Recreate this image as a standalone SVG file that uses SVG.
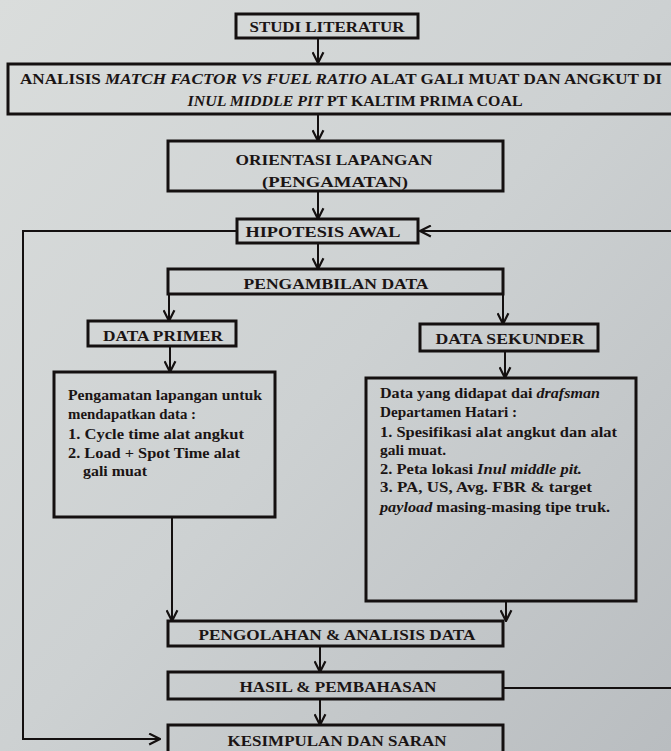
<svg xmlns="http://www.w3.org/2000/svg" width="671" height="751" viewBox="0 0 671 751">
<defs>
<linearGradient id="bg" x1="0" y1="0" x2="1" y2="1">
<stop offset="0" stop-color="#dadddc"/>
<stop offset="0.5" stop-color="#cdd1d2"/>
<stop offset="1" stop-color="#b9bdc0"/>
</linearGradient>
<marker id="ah" viewBox="0 0 12 12" refX="11" refY="6" markerWidth="13" markerHeight="13" markerUnits="userSpaceOnUse" orient="auto">
<path d="M1,1 L11,6 L1,11" fill="none" stroke="#141010" stroke-width="2"/>
</marker>
<style>
.box{fill:none;stroke:#141010;stroke-width:3}
.c{fill:none;stroke:#141010;stroke-width:2}
.a{marker-end:url(#ah)}
text{font-family:"Liberation Serif","Times New Roman",serif;font-weight:bold;fill:#1a1414}
.t{font-size:15.5px;text-anchor:middle}
.s{font-size:14.5px}
.i{font-style:italic}
</style>
</defs>
<rect width="671" height="751" fill="url(#bg)"/>

<g id="connectors">
<path class="c a" d="M318,38 V63"/>
<path class="c a" d="M318,114 V141"/>
<path class="c a" d="M318,191 V219"/>
<path class="c a" d="M675,231 H420"/>
<path class="c a" d="M237,231 H23 V739 H160"/>
<path class="c a" d="M318,243 V269"/>
<path class="c a" d="M169,294 V321"/>
<path class="c a" d="M503,294 V324"/>
<path class="c a" d="M170,346 V372"/>
<path class="c a" d="M505,351 V378"/>
<path class="c a" d="M172,517 V621"/>
<path class="c a" d="M506,601 V621"/>
<path class="c a" d="M320,646 V672"/>
<path class="c a" d="M320,699 V725"/>
<path class="c" d="M504,688 H675"/>
</g>

<g id="studi">
<rect class="box" x="236" y="14" width="182" height="24"/>
<text class="t" x="327" y="32" textLength="155" lengthAdjust="spacingAndGlyphs">STUDI LITERATUR</text>
</g>

<g id="analisis">
<rect class="box" x="8" y="64" width="700" height="50"/>
<text class="t" x="341" y="84" textLength="642" lengthAdjust="spacingAndGlyphs">ANALISIS <tspan class="i">MATCH FACTOR VS FUEL RATIO</tspan>  ALAT GALI MUAT DAN ANGKUT DI</text>
<text class="t" x="355" y="106" textLength="335" lengthAdjust="spacingAndGlyphs"><tspan class="i">INUL MIDDLE PIT</tspan>  PT KALTIM PRIMA COAL</text>
</g>

<g id="orientasi">
<rect class="box" x="168" y="141" width="335" height="50"/>
<text class="t" x="334" y="165" textLength="197" lengthAdjust="spacingAndGlyphs">ORIENTASI LAPANGAN</text>
<text class="t" x="335" y="187" textLength="146" lengthAdjust="spacingAndGlyphs">(PENGAMATAN)</text>
</g>

<g id="hipotesis">
<rect class="box" x="237" y="219" width="181" height="24"/>
<text class="t" x="323" y="237" textLength="155" lengthAdjust="spacingAndGlyphs">HIPOTESIS AWAL</text>
</g>

<g id="pengambilan">
<rect class="box" x="168" y="269" width="335" height="25"/>
<text class="t" x="336" y="289" textLength="185" lengthAdjust="spacingAndGlyphs">PENGAMBILAN DATA</text>
</g>

<g id="primer">
<rect class="box" x="88" y="321" width="148" height="25"/>
<text class="t" x="163" y="341" textLength="120" lengthAdjust="spacingAndGlyphs">DATA PRIMER</text>
</g>

<g id="sekunder">
<rect class="box" x="420" y="324" width="178" height="27"/>
<text class="t" x="510" y="344" textLength="149" lengthAdjust="spacingAndGlyphs">DATA SEKUNDER</text>
</g>

<g id="primer-detail">
<rect class="box" x="54" y="372" width="221" height="145"/>
<text class="s" x="68" y="400" textLength="194" lengthAdjust="spacingAndGlyphs">Pengamatan lapangan untuk</text>
<text class="s" x="68" y="419" textLength="128" lengthAdjust="spacingAndGlyphs">mendapatkan data :</text>
<text class="s" x="68" y="439" textLength="176" lengthAdjust="spacingAndGlyphs">1. Cycle time  alat angkut</text>
<text class="s" x="68" y="458" textLength="172" lengthAdjust="spacingAndGlyphs">2. Load + Spot Time alat</text>
<text class="s" x="83" y="476" textLength="64" lengthAdjust="spacingAndGlyphs">gali muat</text>
</g>

<g id="sekunder-detail">
<rect class="box" x="366" y="378" width="270" height="223"/>
<text class="s" x="380" y="398" textLength="220" lengthAdjust="spacingAndGlyphs">Data yang didapat dai <tspan class="i">drafsman</tspan></text>
<text class="s" x="380" y="417" textLength="137" lengthAdjust="spacingAndGlyphs">Departamen Hatari :</text>
<text class="s" x="380" y="437" textLength="237" lengthAdjust="spacingAndGlyphs">1. Spesifikasi alat angkut dan alat</text>
<text class="s" x="380" y="455" textLength="66" lengthAdjust="spacingAndGlyphs">gali muat.</text>
<text class="s" x="380" y="474" textLength="202" lengthAdjust="spacingAndGlyphs">2. Peta lokasi <tspan class="i">Inul middle pit.</tspan></text>
<text class="s" x="380" y="492" textLength="212" lengthAdjust="spacingAndGlyphs">3. PA, US, Avg. FBR  &amp; target</text>
<text class="s" x="380" y="512" textLength="230" lengthAdjust="spacingAndGlyphs"><tspan class="i">payload</tspan> masing-masing tipe truk.</text>
</g>

<g id="pengolahan">
<rect class="box" x="168" y="621" width="335" height="25"/>
<text class="t" x="337" y="640" textLength="277" lengthAdjust="spacingAndGlyphs">PENGOLAHAN &amp; ANALISIS DATA</text>
</g>

<g id="hasil">
<rect class="box" x="168" y="672" width="335" height="27"/>
<text class="t" x="338" y="692" textLength="197" lengthAdjust="spacingAndGlyphs">HASIL &amp; PEMBAHASAN</text>
</g>

<g id="kesimpulan">
<rect class="box" x="168" y="725" width="335" height="30"/>
<text class="t" x="337" y="746" textLength="219" lengthAdjust="spacingAndGlyphs">KESIMPULAN DAN SARAN</text>
</g>
</svg>
